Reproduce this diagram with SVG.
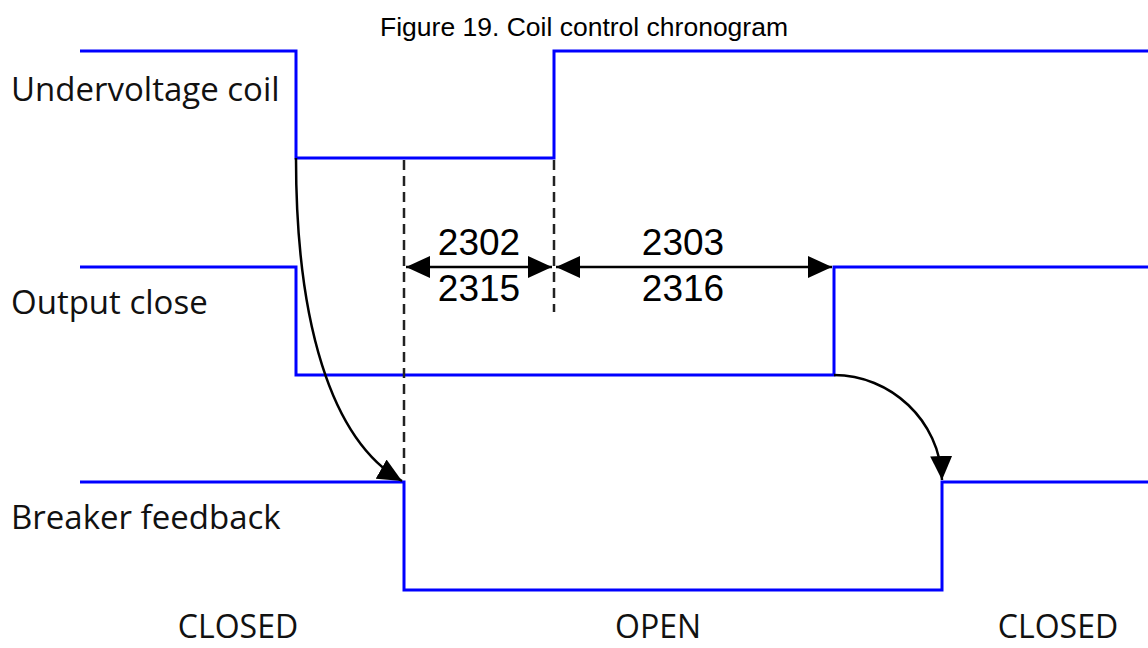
<svg xmlns="http://www.w3.org/2000/svg" width="1148" height="648" viewBox="0 0 1148 648">
<style>
.sig{fill:none;stroke:#0000ff;stroke-width:3}
.dash{fill:none;stroke:#222;stroke-width:2.5;stroke-dasharray:10,6}
.arr{fill:none;stroke:#000;stroke-width:2.5}
.lbl{font-family:"Open Sans",sans-serif;font-size:33px;fill:#111}
.num{font-family:"Liberation Sans",Arial,sans-serif;font-size:37px;fill:#000;text-anchor:middle}
.title{font-family:"Liberation Sans",Arial,sans-serif;font-size:26.5px;fill:#000;text-anchor:middle}
.state{font-family:"Open Sans",sans-serif;font-size:32px;fill:#111;text-anchor:middle}
</style>
<defs>
<marker id="big" viewBox="0 0 24 22" refX="24" refY="11" markerWidth="24" markerHeight="22" markerUnits="userSpaceOnUse" orient="auto-start-reverse">
<path d="M0,0 L24,11 L0,22 z" fill="#000"/>
</marker>
</defs>
<text class="title" x="584" y="36">Figure 19. Coil control chronogram</text>
<g id="undervoltage">
<polyline class="sig" points="80,51 296,51 296,158 554,158 554,51 1148,51"/>
<text class="lbl" x="11" y="101">Undervoltage coil</text>
</g>
<g id="output-close">
<polyline class="sig" points="80,267 296,267 296,375 834,375 834,267 1148,267"/>
<text class="lbl" x="11" y="314">Output close</text>
</g>
<g id="breaker-feedback">
<polyline class="sig" points="80,482 404,482 404,590 942,590 942,482 1148,482"/>
<text class="lbl" x="11" y="529">Breaker feedback</text>
</g>
<g id="connectors">
<line class="dash" x1="404" y1="160" x2="404" y2="480"/>
<line class="dash" x1="554" y1="160" x2="554" y2="312"/>
<line class="arr" x1="406" y1="267" x2="552" y2="267" marker-start="url(#big)" marker-end="url(#big)"/>
<line class="arr" x1="556" y1="267" x2="832" y2="267" marker-start="url(#big)" marker-end="url(#big)"/>
<path class="arr" d="M296,158 C296,320 330,440 402,481" marker-end="url(#big)"/>
<path class="arr" d="M834,375 C890,375 940,420 942,480" marker-end="url(#big)"/>
</g>
<g id="timers">
<text class="num" x="479" y="255">2302</text>
<text class="num" x="479" y="301">2315</text>
<text class="num" x="683" y="255">2303</text>
<text class="num" x="683" y="301">2316</text>
</g>
<g id="states">
<text class="state" x="238" y="638">CLOSED</text>
<text class="state" x="658" y="638">OPEN</text>
<text class="state" x="1058" y="638">CLOSED</text>
</g>
</svg>
